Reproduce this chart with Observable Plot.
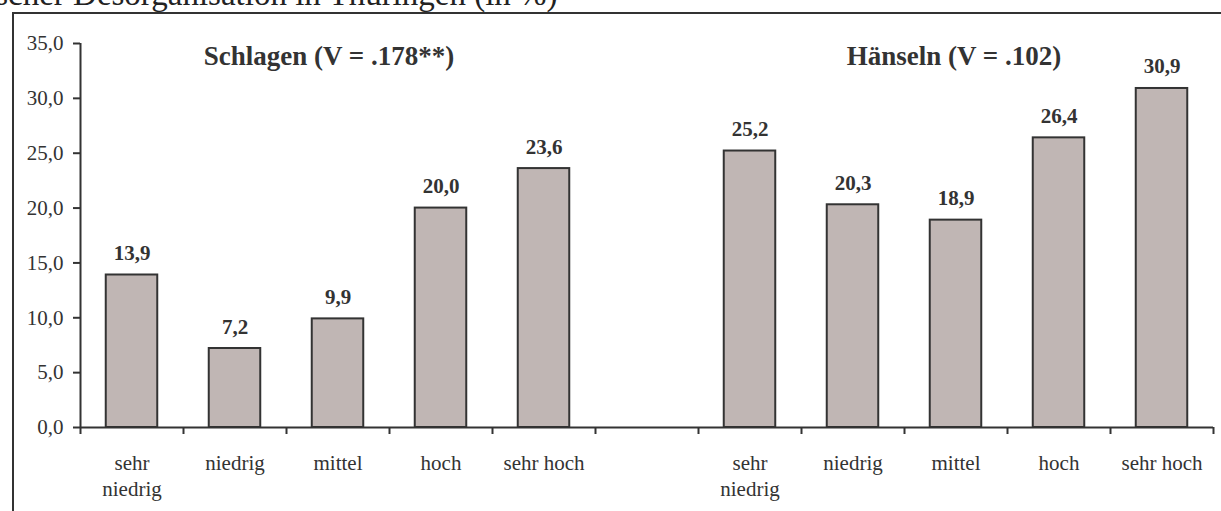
<!DOCTYPE html>
<html>
<head>
<meta charset="utf-8">
<script src="https://cdn.jsdelivr.net/npm/d3@7"></script>
<script src="https://cdn.jsdelivr.net/npm/@observablehq/plot@0.6"></script>
<style>
  html, body { margin: 0; padding: 0; background: #fff; overflow: hidden; }
  #wrap { position: relative; width: 1221px; height: 511px; overflow: hidden; }
  #title { position: absolute; left: -14px; top: -22px; font: 33px "Liberation Serif", "Times New Roman", serif; line-height: 1; color: #222; white-space: nowrap; }
  #box { position: absolute; left: 12px; top: 12px; right: -10px; bottom: -10px; border-left: 2px solid #333; border-top: 2px solid #333; pointer-events: none; }
  #chart { position: absolute; left: 0; top: 0; }
</style>
</head>
<body>
<div id="wrap">
  <div id="chart"></div>
  <div id="title">ischer Desorganisation in Thüringen (in %)</div>
  <div id="box"></div>
</div>
<script>
// ---- data ----
const categories = ["sehr\nniedrig", "niedrig", "mittel", "hoch", "sehr hoch"];
const groups = ["Schlagen (V = .178**)", "Hänseln (V = .102)"];
const schlagen = [13.9, 7.2, 9.9, 20.0, 23.6];
const haenseln = [25.2, 20.3, 18.9, 26.4, 30.9];
const yTicks = [0, 5, 10, 15, 20, 25, 30, 35];

// ---- build table: slot positions (5 bars, 1 empty slot, 5 bars) ----
const seriesValues = [schlagen, haenseln];
const rows = [];
seriesValues.forEach((vals, g) => {
  vals.forEach((v, k) => rows.push({group: groups[g], category: categories[k], slot: g * 6 + k, value: v}));
});
const nSlots = categories.length * 2 + 1;
const groupRows = groups.map((name, g) => ({name, center: g * 6 + categories.length / 2, shift: g === 0 ? -9 : -2}));

const fmt = v => v.toFixed(1).replace(".", ",");
const ink = "#333";

const chart = Plot.plot({
  width: 1221,
  height: 511,
  marginLeft: 80,
  marginRight: 8,
  marginTop: 43,
  marginBottom: 84,
  style: {fontFamily: "'Liberation Serif', 'Times New Roman', serif", fontSize: "21px", color: ink, background: "transparent", overflow: "visible"},
  x: {domain: [0, nSlots], axis: null, label: null},
  y: {domain: [0, 35], axis: null, label: null},
  marks: [
    Plot.rectY(rows, {x1: d => d.slot + 0.25, x2: d => d.slot + 0.75, y1: 0, y2: "value", fill: "#c0b6b4", stroke: ink, strokeWidth: 2}),
    Plot.axisY({ticks: yTicks, tickSize: 7, tickPadding: 10, tickFormat: fmt, strokeWidth: 2, stroke: ink, fill: ink, fontSize: 21, label: null}),
    Plot.axisX({ticks: d3.range(nSlots + 1), tickSize: 7, tickFormat: () => "", strokeWidth: 2, stroke: ink, label: null}),
    Plot.ruleX([0], {y1: 0, y2: 35, stroke: ink, strokeWidth: 2}),
    Plot.ruleY([0], {stroke: ink, strokeWidth: 2}),
    Plot.text(rows, {x: d => d.slot + 0.5, y: 0, text: "category", lineAnchor: "top", dy: 25, lineHeight: 1.2, fontSize: 21, fill: ink}),
    Plot.text(rows, {x: d => d.slot + 0.5, y: "value", text: d => fmt(d.value), lineAnchor: "bottom", dy: -15, fontSize: 21, fontWeight: "bold", fill: ink}),
    ...groupRows.map(g => Plot.text([g], {x: "center", y: 35, text: "name", lineAnchor: "bottom", dy: 21, dx: g.shift, fontSize: 27, fontWeight: "bold", fill: ink}))
  ]
});
document.getElementById("chart").appendChild(chart);
</script>
</body>
</html>
